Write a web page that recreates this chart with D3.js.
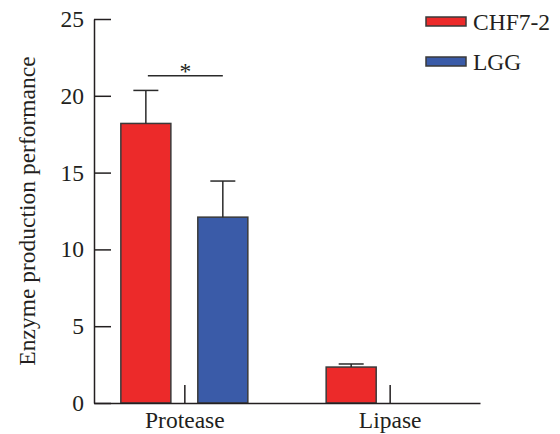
<!DOCTYPE html>
<html>
<head>
<meta charset="utf-8">
<script src="https://cdn.jsdelivr.net/npm/d3@7"></script>
<style>
  html, body { margin: 0; padding: 0; background: #fff; }
  svg { display: block; }
  svg text { font-family: "Liberation Serif", "Times New Roman", Times, "DejaVu Serif", serif !important; fill: #231f20; }
</style>
</head>
<body>
<svg id="chart" width="560" height="434"></svg>
<script>
const categories = ["Protease", "Lipase"];
const series = ["CHF7-2", "LGG"];
const means = { "CHF7-2": [18.2, 2.34], "LGG": [12.1, 0] };
const errors = { "CHF7-2": [2.15, 0.2], "LGG": [2.35, 0] };
const yTicks = [0, 5, 10, 15, 20, 25];
const colors = ["#ec2a2a", "#3a5ba8"];
const yLabel = "Enzyme production performance";
const sigLevel = 21.3;

const FONT = '"Liberation Serif", "Times New Roman", Times, "DejaVu Serif", serif';
const FS = 23.5;
const svg = d3.select("#chart").attr("font-family", FONT);
const mLeft = 94, mRight = 480, mTop = 19, mBottom = 403;

const y = d3.scaleLinear().domain([0, 25]).range([mBottom, mTop]);
const x0 = d3.scalePoint().domain(categories).range([mLeft, mRight]).padding(0.44);
const x1 = d3.scaleBand().domain(series).range([-63.5, 63.5]).paddingInner(0.35);
const color = d3.scaleOrdinal().domain(series).range(colors);

const data = [];
categories.forEach((c, i) => series.forEach(s => {
  data.push({ cat: c, s: s, v: means[s][i], e: errors[s][i] });
}));

// bars
svg.append("g").selectAll("rect").data(data.filter(d => d.v > 0)).join("rect")
  .attr("x", d => x0(d.cat) + x1(d.s))
  .attr("y", d => y(d.v))
  .attr("width", x1.bandwidth())
  .attr("height", d => y(0) - y(d.v))
  .attr("fill", d => color(d.s))
  .attr("stroke", "#3a3a3a")
  .attr("stroke-width", 1.5);

// error bars
const eg = svg.append("g").attr("stroke", "#2a2a2a").attr("stroke-width", 1.5);
data.filter(d => d.v > 0).forEach(d => {
  const cx = x0(d.cat) + x1(d.s) + x1.bandwidth() / 2;
  eg.append("line").attr("x1", cx).attr("x2", cx).attr("y1", y(d.v)).attr("y2", y(d.v + d.e));
  eg.append("line").attr("x1", cx - 12.5).attr("x2", cx + 12.5).attr("y1", y(d.v + d.e)).attr("y2", y(d.v + d.e));
});

// axes
const yAxis = d3.axisLeft(y).tickValues(yTicks).tickSize(-17).tickSizeOuter(0).tickPadding(10);
const gy = svg.append("g").attr("transform", `translate(${mLeft},0)`).call(yAxis);
gy.attr("font-family", FONT).attr("font-size", FS);
gy.select(".domain").attr("stroke", "#231f20").attr("stroke-width", 1.5);
gy.selectAll(".tick line").attr("stroke", "#231f20").attr("stroke-width", 1.5);
gy.selectAll(".tick text").attr("fill", "#231f20");

const xAxis = d3.axisBottom(x0).tickSize(-18).tickSizeOuter(0).tickPadding(8);
const gx = svg.append("g").attr("transform", `translate(0,${mBottom})`).call(xAxis);
gx.attr("font-family", FONT).attr("font-size", FS);
gx.select(".domain").attr("stroke", "#231f20").attr("stroke-width", 1.5);
gx.selectAll(".tick line").attr("stroke", "#231f20").attr("stroke-width", 1.5);
gx.selectAll(".tick text").attr("fill", "#231f20");

// y label
svg.append("text")
  .attr("transform", `translate(35,${(mTop + mBottom) / 2}) rotate(-90)`)
  .attr("text-anchor", "middle")
  .attr("font-size", FS)
  .text(yLabel);

// significance
const sx1 = x0("Protease") + x1("CHF7-2") + x1.bandwidth() / 2 + 2;
const sx2 = x0("Protease") + x1("LGG") + x1.bandwidth() / 2;
svg.append("line").attr("x1", sx1).attr("x2", sx2).attr("y1", y(sigLevel)).attr("y2", y(sigLevel))
  .attr("stroke", "#2a2a2a").attr("stroke-width", 1.5);
svg.append("text").attr("x", (sx1 + sx2) / 2).attr("y", y(sigLevel) + 3)
  .attr("text-anchor", "middle").attr("font-size", FS).text("*");

// legend
const lg = svg.append("g");
series.forEach((s, i) => {
  const g = lg.append("g").attr("transform", `translate(426,${17 + i * 40})`);
  g.append("rect").attr("width", 40).attr("height", 9).attr("fill", color(s))
    .attr("stroke", "#3a3a3a").attr("stroke-width", 1.5);
  g.append("text").attr("x", 47).attr("y", 12.5).attr("font-size", FS).text(s);
});
</script>
</body>
</html>
